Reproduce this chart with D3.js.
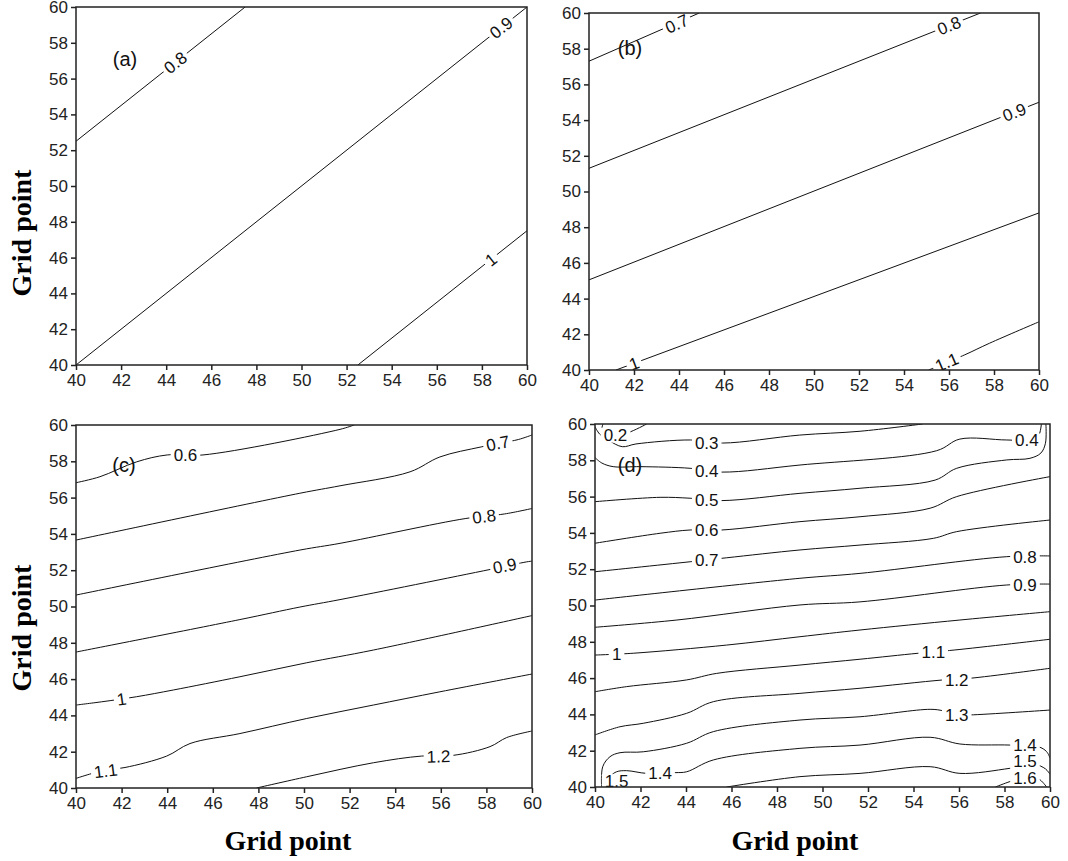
<!DOCTYPE html>
<html>
<head>
<meta charset="utf-8">
<script src="https://cdn.jsdelivr.net/npm/d3@7"></script>
<style>
  body { margin: 0; background: #fff; }
  text { font-family: "Liberation Sans", Arial, sans-serif; }
</style>
</head>
<body>
<svg id="chart"></svg>
<script>
let w = 1068;
let h = 861;

// tick labels (same on every axis)
const gridTicks = [40, 42, 44, 46, 48, 50, 52, 54, 56, 58, 60];

// contour lines in grid-point units [x, y]
const linesA = [
    { level: 0.8, pts: [[40, 52.5], [47.5, 60]] },
    { level: 0.9, pts: [[40, 40], [60, 60]] },
    { level: 1.0, pts: [[52.5, 40], [60, 47.5]] }
];
const labelsA = [
    { text: '0.8', x: 44.4, y: 56.9 },
    { text: '0.9', x: 58.85, y: 58.85 },
    { text: '1', x: 58.4, y: 45.9 }
];

const linesB = [
    { level: 0.7, pts: [[40, 57.3], [44.9, 60]] },
    { level: 0.8, pts: [[40, 51.3], [57.4, 60]] },
    { level: 0.9, pts: [[40, 45.05], [60, 55]] },
    { level: 1.0, pts: [[41.2, 40], [60, 48.8]] },
    { level: 1.1, pts: [[55.1, 40], [56.7, 40.85], [57.8, 41.5], [60, 42.7]] }
];
const labelsB = [
    { text: '0.7', x: 43.9, y: 59.4 },
    { text: '0.8', x: 56.0, y: 59.3 },
    { text: '0.9', x: 58.9, y: 54.45 },
    { text: '1', x: 42.0, y: 40.37 },
    { text: '1.1', x: 55.9, y: 40.45 }
];

const linesC = [
    { level: 0.6, pts: [[40, 56.82], [41.05, 57.15], [42.66, 57.97], [44.0, 58.35], [45.57, 58.35], [51.58, 59.76], [52.2, 60]] },
    { level: 0.7, pts: [[40, 53.66], [49.82, 56.24], [51.58, 56.65], [54.65, 57.42], [55.96, 58.24], [57.8, 58.8], [59.4, 59.2], [60, 59.45]] },
    { level: 0.8, pts: [[40, 50.63], [49.82, 53.11], [51.58, 53.48], [57.1, 54.85], [58.8, 55.1], [60, 55.4]] },
    { level: 0.9, pts: [[40, 47.49], [47.19, 49.28], [49.82, 49.97], [51.58, 50.38], [58.16, 52.04], [59.77, 52.46], [60, 52.5]] },
    { level: 1.0, pts: [[40, 44.57], [41.13, 44.75], [42.66, 45.03], [44.27, 45.4], [47.19, 46.13], [50.12, 46.9], [53.04, 47.6], [60, 49.5]] },
    { level: 1.1, pts: [[40, 40.53], [41.27, 40.99], [42.15, 41.13], [43.98, 41.76], [45.0, 42.45], [47.19, 43.0], [50.12, 43.83], [53.04, 44.57], [55.96, 45.3], [60, 46.28]] },
    { level: 1.2, pts: [[47.92, 40], [50.12, 40.62], [53.04, 41.39], [55.16, 41.76], [56.55, 41.8], [58.16, 42.28], [58.89, 42.78], [60, 43.14]] }
];
const labelsC = [
    { text: '0.6', x: 44.8, y: 58.35 },
    { text: '0.7', x: 58.5, y: 59.0 },
    { text: '0.8', x: 57.9, y: 54.97 },
    { text: '0.9', x: 58.8, y: 52.25 },
    { text: '1', x: 42.0, y: 44.9 },
    { text: '1.1', x: 41.3, y: 40.95 },
    { text: '1.2', x: 55.9, y: 41.75 }
];

const linesD = [
    { level: 0.2, pts: [[40.35, 60], [40.3, 59.6], [40.5, 59.42], [40.9, 59.4], [41.45, 59.52], [42.27, 60]] },
    { level: 0.3, pts: [[40, 59.85], [40.2, 59.45], [40.6, 59.1], [41.2, 58.75], [41.8, 58.9], [44.2, 59.12], [45.6, 58.95], [49, 59.39], [51.65, 59.6], [54.4, 60]] },
    { level: 0.4, pts: [[40, 58.15], [40.3, 57.85], [40.8, 57.65], [42, 57.65], [44.18, 57.56], [45.57, 57.35], [49.01, 57.74], [55.02, 58.53], [56.04, 59.17], [58.1, 59.12], [59.4, 59.15], [59.62, 60]] },
    { level: 0.5, pts: [[40, 55.72], [42.86, 55.96], [44.18, 55.91], [45.57, 55.78], [49.01, 56.18], [51.65, 56.46], [54.95, 56.91], [55.9, 57.56], [58.1, 58.02], [59.12, 58.11], [59.6, 58.4], [59.8, 58.94], [59.82, 60]] },
    { level: 0.6, pts: [[40, 53.43], [42.86, 53.98], [44.18, 54.16], [45.57, 54.16], [49.01, 54.62], [51.65, 54.89], [54.73, 55.36], [55.9, 56.0], [60, 57.1]] },
    { level: 0.7, pts: [[40, 51.86], [44.18, 52.41], [45.79, 52.63], [49.01, 53.06], [51.65, 53.33], [54.87, 53.7], [55.9, 54.07], [60, 54.71]] },
    { level: 0.8, pts: [[40, 50.3], [49.01, 51.5], [51.65, 51.77], [58.1, 52.69], [60, 52.73]] },
    { level: 0.9, pts: [[40, 48.8], [43.6, 49.2], [49.01, 50.03], [51.65, 50.2], [58.1, 51.13], [60, 51.18]] },
    { level: 1.0, pts: [[40, 47.27], [41.68, 47.37], [45.79, 47.82], [49.01, 48.28], [51.65, 48.65], [56.04, 49.2], [60, 49.66]] },
    { level: 1.1, pts: [[40, 45.25], [41.39, 45.53], [44.03, 45.9], [45.35, 46.26], [49.01, 46.72], [51.65, 47.04], [54.21, 47.37], [55.82, 47.55], [60, 48.14]] },
    { level: 1.2, pts: [[40, 42.87], [41.1, 43.32], [42.12, 43.51], [44.03, 44.06], [45.2, 44.7], [49.01, 45.16], [51.65, 45.44], [55.31, 45.9], [56.48, 45.99], [60, 46.54]] },
    { level: 1.3, pts: [[40.29, 40], [40.34, 41.12], [40.66, 41.67], [41.1, 41.89], [42.12, 41.94], [44.03, 42.41], [45.2, 43.05], [49.01, 43.69], [51.65, 43.87], [54.73, 44.28], [55.3, 44.2], [55.9, 43.97], [56.48, 43.97], [60, 44.24]] },
    { level: 1.4, pts: [[40.6, 40], [40.7, 40.6], [40.95, 40.84], [41.39, 40.9], [42.27, 40.75], [43.52, 40.79], [44.03, 40.84], [45.2, 41.49], [49.01, 42.13], [51.65, 42.31], [54.73, 42.74], [56.04, 42.37], [58.24, 42.31], [59.49, 42.22], [59.85, 41.95], [60, 41.6]] },
    { level: 1.5, pts: [[45.79, 40], [49.01, 40.57], [51.65, 40.75], [54.73, 41.12], [56.04, 40.75], [58.24, 41.03], [59.3, 41.25], [59.8, 41.0], [60, 40.7]] },
    { level: 1.6, pts: [[57.6, 40], [58.24, 40.3], [58.9, 40.55], [59.5, 40.45], [59.85, 40]] }
];
const labelsD = [
    { text: '0.2', x: 40.9, y: 59.42 },
    { text: '0.3', x: 44.91, y: 58.95 },
    { text: '0.4', x: 44.91, y: 57.4 },
    { text: '0.5', x: 44.91, y: 55.83 },
    { text: '0.6', x: 44.91, y: 54.14 },
    { text: '0.7', x: 44.91, y: 52.5 },
    { text: '0.4', x: 58.98, y: 59.1 },
    { text: '0.8', x: 58.9, y: 52.7 },
    { text: '0.9', x: 58.9, y: 51.14 },
    { text: '1', x: 40.95, y: 47.35 },
    { text: '1.1', x: 54.87, y: 47.46 },
    { text: '1.2', x: 55.9, y: 45.9 },
    { text: '1.3', x: 55.9, y: 43.97 },
    { text: '1.4', x: 42.86, y: 40.76 },
    { text: '1.4', x: 58.9, y: 42.3 },
    { text: '1.5', x: 40.95, y: 40.33 },
    { text: '1.5', x: 58.9, y: 41.42 },
    { text: '1.6', x: 58.9, y: 40.5 }
];

const panels = [
    { id: 'a', tag: '(a)', tagX: 125, tagY: 66, lines: linesA, labels: labelsA, left: 76, right: 527, top: 7, bottom: 365, rotate: true },
    { id: 'b', tag: '(b)', tagX: 630, tagY: 55, lines: linesB, labels: labelsB, left: 589, right: 1039, top: 13, bottom: 370, rotate: true },
    { id: 'c', tag: '(c)', tagX: 124, tagY: 472, lines: linesC, labels: labelsC, left: 76, right: 532, top: 425, bottom: 788, rotate: true },
    { id: 'd', tag: '(d)', tagX: 630, tagY: 472, lines: linesD, labels: labelsD, left: 595, right: 1050, top: 424, bottom: 787, rotate: false }
];

const chart = d3.select('#chart')
    .attr('width', w)
    .attr('height', h);

// angle of the line at a label, in screen degrees
function labelAngle(pts, lx, x, y) {
    for (let i = 0; i < pts.length - 1; i++) {
        const a = pts[i], b = pts[i + 1];
        if (lx >= Math.min(a[0], b[0]) && lx <= Math.max(a[0], b[0])) {
            return Math.atan2(y(b[1]) - y(a[1]), x(b[0]) - x(a[0])) * 180 / Math.PI;
        }
    }
    return 0;
}

function drawPanel(p) {
    const x = d3.scaleLinear().domain([40, 60]).range([p.left, p.right]);
    const y = d3.scaleLinear().domain([40, 60]).range([p.bottom, p.top]);
    const g = chart.append('g');

    g.append('clipPath').attr('id', 'clip-' + p.id)
        .append('rect')
        .attr('x', p.left).attr('y', p.top)
        .attr('width', p.right - p.left).attr('height', p.bottom - p.top);

    const line = d3.line()
        .x(d => x(d[0]))
        .y(d => y(d[1]))
        .curve(d3.curveCatmullRom.alpha(0.5));

    const cg = g.append('g').attr('clip-path', 'url(#clip-' + p.id + ')');
    cg.selectAll('path.contour')
        .data(p.lines)
        .enter()
        .append('path')
        .attr('class', 'contour')
        .attr('d', d => line(d.pts))
        .style('fill', 'none')
        .style('stroke', '#111')
        .style('stroke-width', 1);

    // contour labels with a white gap behind them
    p.labels.forEach(l => {
        const owner = p.lines.find(c => +c.level === +l.text);
        let ang = 0;
        if (p.rotate && owner) ang = labelAngle(owner.pts, l.x, x, y);
        const lg = cg.append('g')
            .attr('transform', `translate(${x(l.x)},${y(l.y)}) rotate(${ang})`);
        const t = lg.append('text')
            .attr('text-anchor', 'middle')
            .attr('dy', '0.36em')
            .style('font-size', '17px')
            .style('fill', '#111')
            .text(l.text);
        const bb = t.node().getBBox();
        lg.insert('rect', 'text')
            .attr('x', bb.x - 3).attr('y', bb.y + 2)
            .attr('width', bb.width + 6).attr('height', bb.height - 4)
            .style('fill', '#fff');
    });

    // frame
    g.append('rect')
        .attr('x', p.left).attr('y', p.top)
        .attr('width', p.right - p.left).attr('height', p.bottom - p.top)
        .style('fill', 'none')
        .style('stroke', '#222')
        .style('stroke-width', 1.5);

    const xAxis = d3.axisBottom(x).tickValues(gridTicks).tickSize(5).tickSizeOuter(0).tickPadding(4);
    const yAxis = d3.axisLeft(y).tickValues(gridTicks).tickSize(5).tickSizeOuter(0).tickPadding(3);

    const xa = g.append('g').attr('transform', `translate(0,${p.bottom})`).call(xAxis);
    const ya = g.append('g').attr('transform', `translate(${p.left},0)`).call(yAxis);
    [xa, ya].forEach(a => {
        a.select('.domain').remove();
        a.selectAll('line').style('stroke', '#222').style('stroke-width', 1.5);
        a.selectAll('text')
            .style('font-family', '"Liberation Sans", Arial, sans-serif')
            .style('font-size', '17px')
            .style('fill', '#222');
    });

    g.append('text')
        .attr('x', p.tagX)
        .attr('y', p.tagY)
        .attr('text-anchor', 'middle')
        .style('font-size', '20px')
        .style('fill', '#111')
        .text(p.tag);
}

panels.forEach(drawPanel);

// axis titles
const titleFont = '"Liberation Serif", "Times New Roman", serif';
[{ x: 288, y: 850 }, { x: 795, y: 850 }].forEach(t => {
    chart.append('text')
        .attr('x', t.x).attr('y', t.y)
        .attr('text-anchor', 'middle')
        .style('font-family', titleFont)
        .style('font-weight', 'bold')
        .style('font-size', '28px')
        .text('Grid point');
});
[{ x: 31, y: 233 }, { x: 31, y: 628 }].forEach(t => {
    chart.append('text')
        .attr('transform', `translate(${t.x},${t.y}) rotate(-90)`)
        .attr('text-anchor', 'middle')
        .style('font-family', titleFont)
        .style('font-weight', 'bold')
        .style('font-size', '28px')
        .text('Grid point');
});
</script>
</body>
</html>
